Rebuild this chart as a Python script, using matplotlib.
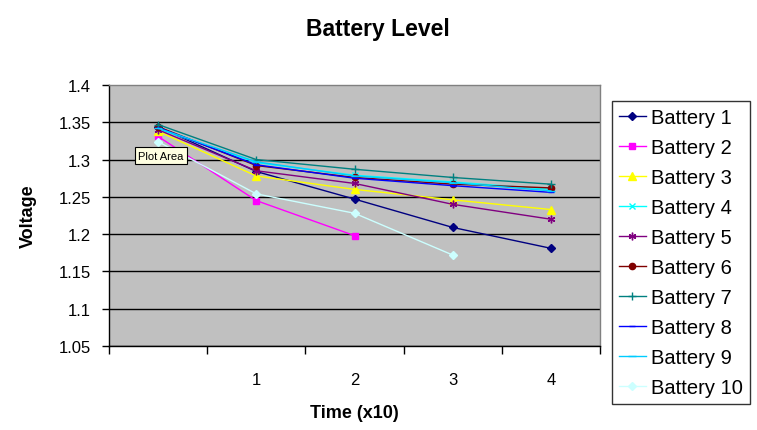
#!/usr/bin/env python3

import numpy as np
import matplotlib
matplotlib.use("Agg")
import matplotlib.pyplot as plt

plt.rcParams["font.family"] = ["Liberation Sans", "DejaVu Sans"]

# category labels along the x axis (first one is blank)
categories = ["", "1", "2", "3", "4"]
series_names = [f"Battery {i}" for i in range(1, 11)]
ytick_labels = ["1.05", "1.1", "1.15", "1.2", "1.25", "1.3", "1.35", "1.4"]

nan = np.nan
battery_1 = [1.344, 1.284, 1.247, 1.209, 1.181]
battery_2 = [1.331, 1.245, 1.198, nan, nan]
battery_3 = [1.338, 1.278, 1.260, 1.246, 1.233]
battery_4 = [1.341, 1.296, 1.279, 1.270, 1.260]
battery_5 = [1.340, 1.285, 1.268, 1.240, 1.220]
battery_6 = [1.344, 1.292, 1.276, 1.267, 1.262]
battery_7 = [1.347, 1.300, 1.287, 1.276, 1.267]
battery_8 = [1.343, 1.293, 1.275, 1.265, 1.256]
battery_9 = [1.342, 1.297, 1.278, 1.269, 1.258]
battery_10 = [1.324, 1.254, 1.228, 1.172, nan]

series = [battery_1, battery_2, battery_3, battery_4, battery_5,
          battery_6, battery_7, battery_8, battery_9, battery_10]

# Excel 2003 default line series styles
colors = ["#000080", "#FF00FF", "#FFFF00", "#00FFFF", "#800080",
          "#800000", "#008080", "#0000FF", "#00CCFF", "#CCFFFF"]
markers = ["D", "s", "^", "x", (6, 2, 0), "o", "+", "_", "_", "D"]
msizes = [4.5, 5, 5.5, 4.5, 5.5, 4.5, 6, 5, 6, 4.5]


def create_plot():
    fig = plt.figure(figsize=(7.57, 4.31), dpi=100)
    ax = fig.add_axes([109 / 757, 1 - 347 / 431, 491 / 757, 261 / 431])
    ax.set_facecolor("#C0C0C0")

    x = np.arange(len(categories))
    for vals, name, c, m, ms in zip(series, series_names, colors, markers, msizes):
        ax.plot(x, vals, color=c, marker=m, markersize=ms, linewidth=1,
                markeredgecolor=c, markerfacecolor=c, markeredgewidth=1,
                label=name)

    ax.set_xlim(-0.5, len(categories) - 0.5)
    ax.set_ylim(1.05, 1.4)
    ax.set_yticks(np.linspace(1.05, 1.4, len(ytick_labels)))
    ax.set_yticklabels(ytick_labels)
    ax.yaxis.grid(True, color="black", linewidth=1)
    ax.get_ygridlines()[-1].set_visible(False)  # no gridline on the top edge
    ax.set_axisbelow(True)

    # tick marks between categories, labels at category centres
    ax.set_xticks(np.arange(-0.5, len(categories), 1.0))
    ax.set_xticklabels([])
    ax.set_xticks(x, minor=True)
    ax.set_xticklabels(categories, minor=True)
    ax.tick_params(axis="x", which="major", direction="out", length=5.5, width=1)
    ax.tick_params(axis="x", which="minor", length=0, pad=18.5, labelsize=12)
    ax.tick_params(axis="y", direction="out", length=5, width=1, labelsize=12, pad=8)

    for side in ["left", "bottom"]:
        ax.spines[side].set_color("black")
        ax.spines[side].set_linewidth(1)
    for side in ["top", "right"]:
        ax.spines[side].set_color("#808080")
        ax.spines[side].set_linewidth(1)

    ax.set_xlabel("Time (x10)", fontsize=13, fontweight="bold")
    ax.xaxis.set_label_coords(0.5, -(405 - 347) / 261)
    ax.set_ylabel("Voltage", fontsize=13, fontweight="bold")
    ax.yaxis.set_label_coords(-(109 - 37) / 491, 0.5)
    fig.text(378 / 757, 1 - 36 / 431, "Battery Level", ha="center", va="baseline",
             fontsize=16.5, fontweight="bold")

    leg = fig.legend(loc="upper left", bbox_to_anchor=(612 / 757, 1 - 102 / 431),
                     fontsize=14.5, frameon=True, fancybox=False, borderpad=0.33,
                     labelspacing=0.55, handlelength=1.34, handletextpad=0.28,
                     borderaxespad=0)
    leg.get_frame().set_edgecolor("black")
    leg.get_frame().set_linewidth(1)

    # tooltip left over in the screenshot
    fig.text(161 / 757, 1 - 156.5 / 431, "Plot Area", ha="center", va="center",
             fontsize=8,
             bbox=dict(boxstyle="square,pad=0.3", facecolor="#FFFFE1",
                       edgecolor="black", linewidth=0.8))

    fig.savefig("out.png", dpi=100)
    plt.close(fig)


if __name__ == "__main__":
    create_plot()
